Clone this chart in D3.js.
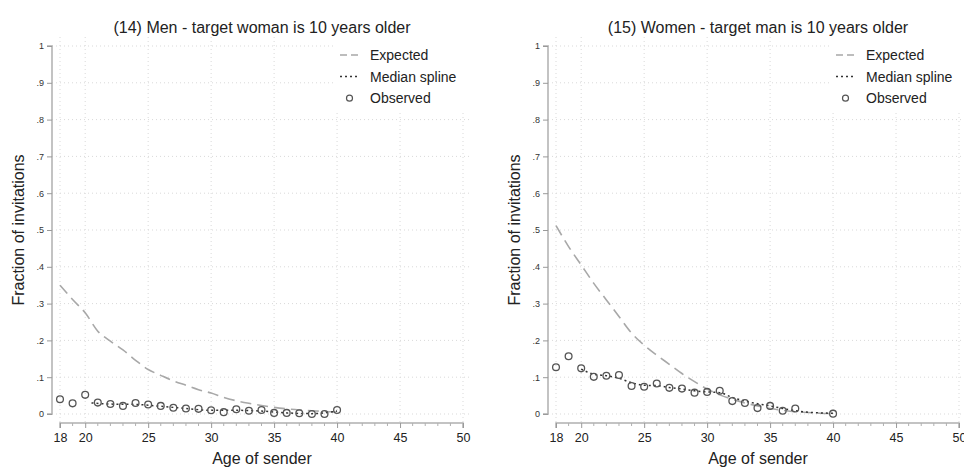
<!DOCTYPE html>
<html>
<head>
<meta charset="utf-8">
<script src="https://cdn.jsdelivr.net/npm/d3@7"></script>
<style>
  body { margin: 0; background: #fff; }
  svg { display: block; font-family: "Liberation Sans", Arial, sans-serif; }
</style>
</head>
<body>
<div id="chart"></div>
<script>
const ages = d3.range(18, 41);

// (14) men, target woman 10 years older
const menObserved = [0.040, 0.029, 0.052, 0.031, 0.027, 0.022, 0.030, 0.026, 0.022, 0.017, 0.015, 0.014,
  0.010, 0.005, 0.013, 0.009, 0.011, 0.003, 0.003, 0.002, 0.000, 0.000, 0.011];
const menExpected = [0.350, 0.311, 0.275, 0.225, 0.198, 0.174, 0.146, 0.121, 0.105, 0.090, 0.078, 0.066,
  0.057, 0.045, 0.036, 0.029, 0.023, 0.018, 0.014, 0.011, 0.009, 0.007, 0.006];
const menSplineAge = [20.5, 22, 24, 26, 28, 30, 32, 34, 36, 38, 40];
const menSpline = [0.030, 0.027, 0.026, 0.021, 0.015, 0.010, 0.010, 0.008, 0.003, 0.001, 0.008];

// (15) women, target man 10 years older
const womenObsAge = [18, 19, 20, 21, 22, 23, 24, 25, 26, 27, 28, 29, 30, 31, 32, 33, 34, 35, 36, 37, 40];
const womenObserved = [0.127, 0.157, 0.124, 0.101, 0.104, 0.106, 0.076, 0.074, 0.083, 0.071, 0.069, 0.058,
  0.060, 0.063, 0.035, 0.030, 0.016, 0.022, 0.009, 0.015, 0.001];
const womenExpected = [0.512, 0.455, 0.405, 0.355, 0.310, 0.265, 0.220, 0.187, 0.160, 0.135, 0.110, 0.088,
  0.068, 0.052, 0.040, 0.030, 0.022, 0.015, 0.010, 0.006, 0.004, 0.002, 0.001];
const womenSplineAge = [20, 21, 22, 23, 24, 25, 26, 27, 28, 29, 30, 31, 32, 33, 34, 35, 36, 37, 38, 39, 40];
const womenSpline = [0.122, 0.108, 0.104, 0.097, 0.085, 0.078, 0.077, 0.072, 0.068, 0.063, 0.060, 0.058,
  0.045, 0.035, 0.028, 0.022, 0.015, 0.009, 0.005, 0.003, 0.002];

const xMajor = [18, 20, 25, 30, 35, 40, 45, 50];
const yTicks = d3.range(0, 11).map(d => d / 10);
const legendItems = ['Expected', 'Median spline', 'Observed'];

const width = 964, height = 467;
const svg = d3.select('#chart').append('svg')
  .attr('width', width)
  .attr('height', height);

const drawPanel = (offsetX, title, obsAge, obs, expected, splineAge, spline) => {
  const g = svg.append('g').attr('transform', `translate(${offsetX},0)`);
  const x = d3.scaleLinear().domain([18, 50]).range([60, 463]);
  const y = d3.scaleLinear().domain([0, 1]).range([414, 46]);
  const left = 52, right = 472, top = 37, bottom = 423;

  // grid
  g.selectAll('.hgrid').data(yTicks).enter().append('line')
    .attr('x1', left).attr('x2', right)
    .attr('y1', d => y(d)).attr('y2', d => y(d))
    .attr('stroke', '#d9d9d9').attr('stroke-width', 1)
    .attr('stroke-dasharray', '1,3');
  g.selectAll('.vgrid').data(xMajor).enter().append('line')
    .attr('x1', d => x(d)).attr('x2', d => x(d))
    .attr('y1', top).attr('y2', bottom)
    .attr('stroke', '#d9d9d9').attr('stroke-width', 1)
    .attr('stroke-dasharray', '1,3');

  // legend background hides grid
  g.append('rect')
    .attr('x', 335).attr('y', 36).attr('width', 140).attr('height', 74)
    .attr('fill', '#fff');

  // y axis
  const yAxis = g.append('g')
    .attr('transform', `translate(${left},0)`)
    .call(d3.axisLeft(y).tickValues(yTicks).tickSize(5).tickPadding(3)
      .tickFormat(d => d === 0 ? '0' : d === 1 ? '1' : d3.format('.1f')(d).replace(/^0/, '')));
  yAxis.select('.domain').attr('stroke', '#b0b0b0').attr('stroke-width', 1.5)
    .attr('d', `M-5,${y(1)}H0V${y(0)}H-5`);
  yAxis.selectAll('.tick line').attr('stroke', '#9a9a9a');
  yAxis.selectAll('.tick text').attr('fill', '#333').style('font-size', '9px');

  // x axis
  const xAxis = g.append('g')
    .attr('transform', `translate(0,${bottom})`)
    .call(d3.axisBottom(x).tickValues(xMajor).tickSize(5).tickPadding(5));
  xAxis.select('.domain').attr('stroke', '#b0b0b0').attr('stroke-width', 1.5)
    .attr('d', `M${x(18)},5V0H${x(50)}V5`);
  xAxis.selectAll('.tick line').attr('stroke', '#9a9a9a');
  xAxis.selectAll('.tick text').attr('fill', '#222').style('font-size', '12.5px');
  const minor = d3.range(18, 51).filter(d => !xMajor.includes(d));
  xAxis.selectAll('.minor').data(minor).enter().append('line')
    .attr('x1', d => x(d)).attr('x2', d => x(d))
    .attr('y1', 0).attr('y2', 3)
    .attr('stroke', '#b0b0b0');

  // titles
  g.append('text')
    .attr('x', 262).attr('y', 33)
    .attr('text-anchor', 'middle')
    .attr('fill', '#222').style('font-size', '16px')
    .text(title);
  g.append('text')
    .attr('x', 262).attr('y', 464)
    .attr('text-anchor', 'middle')
    .attr('fill', '#222').style('font-size', '16px')
    .text('Age of sender');
  g.append('text')
    .attr('transform', `translate(24,${y(0.5) + 0})rotate(-90)`)
    .attr('text-anchor', 'middle')
    .attr('fill', '#222').style('font-size', '16px')
    .text('Fraction of invitations');

  // expected
  g.append('path')
    .datum(ages.map((a, i) => [a, expected[i]]))
    .attr('d', d3.line().x(d => x(d[0])).y(d => y(d[1])).curve(d3.curveMonotoneX))
    .attr('fill', 'none')
    .attr('stroke', '#a8a8a8').attr('stroke-width', 1.6)
    .attr('stroke-dasharray', '11,6');

  // median spline
  g.append('path')
    .datum(splineAge.map((a, i) => [a, spline[i]]))
    .attr('d', d3.line().x(d => x(d[0])).y(d => y(d[1])).curve(d3.curveMonotoneX))
    .attr('fill', 'none')
    .attr('stroke', '#333').attr('stroke-width', 1.5)
    .attr('stroke-dasharray', '2,3');

  // observed
  g.selectAll('.obs').data(obsAge.map((a, i) => [a, obs[i]])).enter().append('circle')
    .attr('cx', d => x(d[0])).attr('cy', d => y(d[1]))
    .attr('r', 3.4)
    .attr('fill', 'none')
    .attr('stroke', '#555').attr('stroke-width', 1.3);

  // legend
  const leg = g.append('g');
  legendItems.forEach((name, i) => {
    const ly = 55 + i * 21.6;
    if (i === 0) {
      leg.append('line').attr('x1', 340).attr('x2', 360).attr('y1', ly).attr('y2', ly)
        .attr('stroke', '#a8a8a8').attr('stroke-width', 1.6).attr('stroke-dasharray', '7,4');
    } else if (i === 1) {
      leg.append('line').attr('x1', 340).attr('x2', 360).attr('y1', ly).attr('y2', ly)
        .attr('stroke', '#333').attr('stroke-width', 1.5).attr('stroke-dasharray', '2,3');
    } else {
      leg.append('circle').attr('cx', 349.5).attr('cy', ly).attr('r', 3)
        .attr('fill', 'none').attr('stroke', '#555').attr('stroke-width', 1.2);
    }
    leg.append('text')
      .attr('x', 370).attr('y', ly + 5)
      .attr('fill', '#222').style('font-size', '14px')
      .text(name);
  });
};

drawPanel(0, '(14) Men - target woman is 10 years older', ages, menObserved, menExpected, menSplineAge, menSpline);
drawPanel(496, '(15) Women - target man is 10 years older', womenObsAge, womenObserved, womenExpected, womenSplineAge, womenSpline);
</script>
</body>
</html>
